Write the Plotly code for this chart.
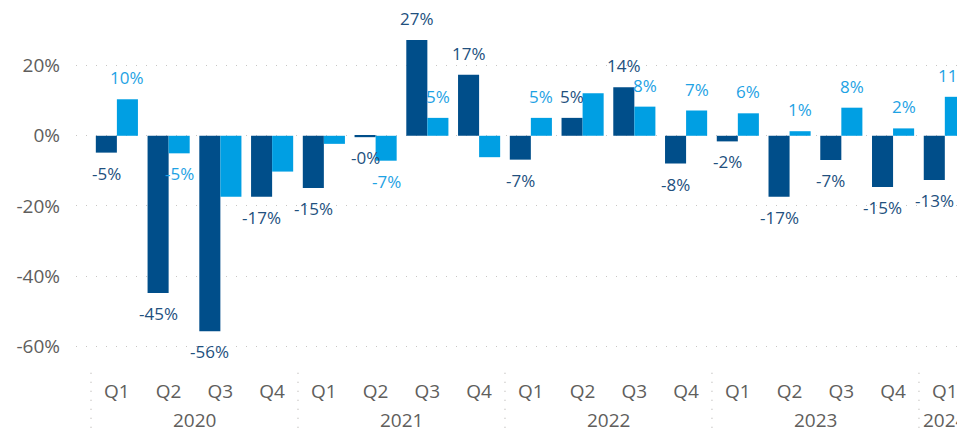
import plotly.graph_objects as go

years = ["2020"] * 4 + ["2021"] * 4 + ["2022"] * 4 + ["2023"] * 4 + ["2024"]
quarters = ["Q1", "Q2", "Q3", "Q4"] * 4 + ["Q1"]
dark_values = [-4.8, -44.8, -55.7, -17.4, -14.9, -0.4, 27.3, 17.4, -6.8, 5.1, 13.8, -7.9,
               -1.6, -17.4, -6.9, -14.6, -12.6]
light_values = [10.4, -5.0, -17.4, -10.2, -2.3, -7.1, 5.1, -6.1, 5.1, 12.1, 8.3, 7.2,
                6.4, 1.3, 8.0, 2.1, 11.1]
dark_label_shown = [True] * 17
light_label_shown = [True, True, False, False, False, True, True, False, True, False, True, True,
                     True, True, True, True, True]
y_ticks = [-60, -40, -20, 0, 20]
y_tick_text = [f"{t}%" for t in y_ticks]

DARK = "#004E8A"
LIGHT = "#009FE3"
DARK_TXT = "#22507E"
LIGHT_TXT = "#1EA2E4"
AXIS_TXT = "#605E5C"
GRID = "#C8C6C4"
FONT = "Open Sans"

cats = [f"{y} {q}" for y, q in zip(years, quarters)]

fig = go.Figure()
fig.add_trace(go.Bar(x=cats, y=dark_values, marker=dict(color=DARK, line=dict(width=0)),
                     name="A", hoverinfo="skip"))
fig.add_trace(go.Bar(x=cats, y=light_values, marker=dict(color=LIGHT, line=dict(width=0)),
                     name="B", hoverinfo="skip"))

GROUP_GAP = 0.186
CAT_PX = 51.75
half = (1 - GROUP_GAP) * CAT_PX / 4

for vals, shown, col, sgn in [(dark_values, dark_label_shown, DARK_TXT, -1),
                              (light_values, light_label_shown, LIGHT_TXT, 1)]:
    for c, v, s in zip(cats, vals, shown):
        if not s:
            continue
        pos = v >= 0
        fig.add_annotation(x=c, y=v, xref="x", yref="y", text=f"{v:.0f}%", showarrow=False,
                           xshift=sgn * half, yshift=9 if pos else -8, borderpad=0,
                           yanchor="bottom" if pos else "top",
                           font=dict(family=FONT, size=17, color=col))

# year labels and dotted year separators
prev = None
for i, (c, y) in enumerate(zip(cats, years)):
    if y != prev:
        grp = [k for k, yy in enumerate(years) if yy == y]
        mid = (grp[0] + grp[-1]) / 2
        fig.add_annotation(x=mid, y=0, xref="x", yref="paper", text=y, showarrow=False,
                           yanchor="top", yshift=-40,
                           font=dict(family=FONT, size=19, color=AXIS_TXT))
        fig.add_shape(type="line", xref="x", yref="paper", x0=i - 0.5, x1=i - 0.5,
                      y0=-0.022, y1=-0.19,
                      line=dict(color=GRID, width=1.5, dash="1px,8px"))
        prev = y

fig.update_layout(
    width=957, height=424,
    margin=dict(l=68, r=0, t=0, b=67, autoexpand=False),
    paper_bgcolor="white", plot_bgcolor="white",
    barmode="group", bargap=GROUP_GAP, bargroupgap=0,
    showlegend=False,
    font=dict(family=FONT, color=AXIS_TXT),
    xaxis=dict(type="category", range=[-0.79, 16.39], tickmode="array",
               tickvals=cats, ticktext=quarters, showgrid=False, zeroline=False,
               showline=False, ticks="", ticklabelstandoff=13, automargin=False,
               tickfont=dict(family=FONT, size=19, color=AXIS_TXT)),
    yaxis=dict(range=[-65.3, 36.4], tickmode="array", tickvals=y_ticks, ticktext=y_tick_text,
               showgrid=True, gridcolor=GRID, gridwidth=1, griddash="1px,9px",
               zeroline=False, showline=False, ticks="", ticklabelstandoff=15,
               automargin=False,
               tickfont=dict(family=FONT, size=19, color=AXIS_TXT)),
)

fig.write_html("out.html")
